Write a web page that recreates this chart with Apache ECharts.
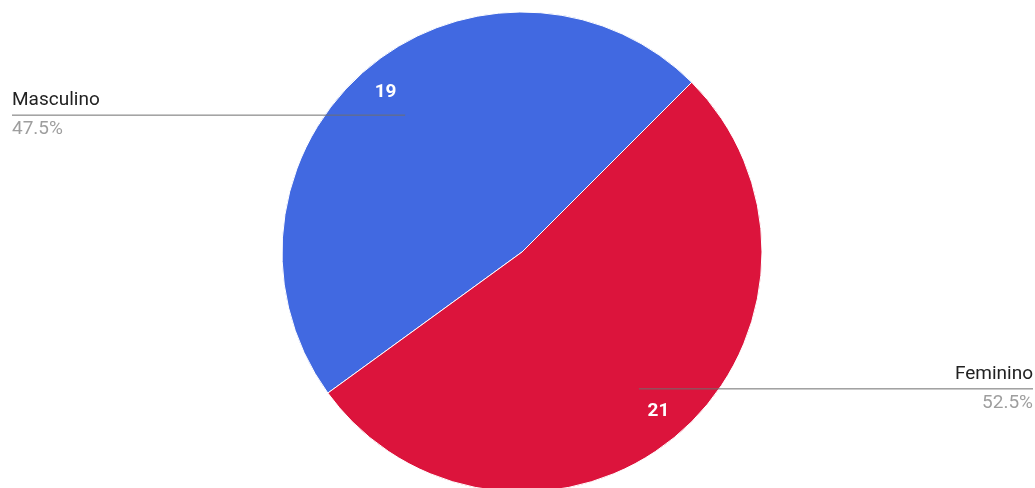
<!DOCTYPE html>
<html>
  <head>
    <meta charset="utf-8" />
    <script src="https://cdn.jsdelivr.net/npm/echarts@6.0.0/dist/echarts.min.js"></script>
  </head>
  <body style="margin:0">
    <div id="main" style="width: 1035px;height:488px;"></div>
    <script type="text/javascript">
      var myChart = echarts.init(document.getElementById('main'));

      // data
      const categories = ['Masculino', 'Feminino'];
      const counts = [19, 21];
      const colorList = ['#4169e1', '#dc143c'];
      const edgeGaps = [12, 2];

      const total = counts.reduce((a, b) => a + b, 0);
      const pieData = categories.map((name, i) => ({ name: name, value: counts[i] }));
      const centre = [522, 252];
      const startAngle = 216;
      const font = 'Roboto, Arial, sans-serif';

      option = {
        animation: false,
        color: colorList,
        series: [
          { name: 'main',
            type: 'pie',
            center: centre,
            radius: 240,
            startAngle: startAngle,
            z: 1,
            label: { show: false },
            labelLine: { show: false },
            itemStyle: { borderColor: '#fff', borderWidth: 1 },
            data: pieData
          },
          // ring only used to place the count labels
          { name: 'counts',
            type: 'pie',
            center: centre,
            radius: [174, 240],
            startAngle: startAngle,
            silent: true,
            z: 3,
            itemStyle: { color: 'transparent' },
            label: {
              show: true,
              position: 'inside',
              formatter: '{c}',
              color: '#fff',
              fontFamily: font,
              fontWeight: 'bold',
              fontSize: 19
            },
            labelLine: { show: false },
            data: pieData
          },
          // invisible pie used for the legend labels with leader lines
          { name: 'legend',
            type: 'pie',
            center: centre,
            radius: 180,
            startAngle: startAngle,
            silent: true,
            z: 5,
            itemStyle: { color: 'transparent' },
            label: {
              show: true,
              alignTo: 'edge',
              formatter: function (p) {
                return '{n|' + p.name + '}\n{p|' + (p.value / total * 100).toFixed(1) + '%}';
              },
              rich: {
                n: { fontFamily: font, fontSize: 19, color: '#222', lineHeight: 29 },
                p: { fontFamily: font, fontSize: 19, color: '#9e9e9e', lineHeight: 29 }
              }
            },
            labelLine: {
              show: true,
              length: 0,
              length2: 10,
              lineStyle: { color: '#6e6e6e', width: 1 }
            },
            labelLayout: function (p) {
              var pts = p.labelLinePoints;
              if (!pts) return {};
              var r = p.labelRect;
              var endX = pts[0][0] < centre[0] ? r.x : r.x + r.width;
              return { labelLinePoints: [pts[0], [endX, pts[0][1]], [endX, pts[0][1]]] };
            },
            data: pieData.map((d, i) => ({
              name: d.name,
              value: d.value,
              label: { edgeDistance: edgeGaps[i] }
            }))
          }
        ]
      };

      myChart.setOption(option);
    </script>
  </body>
</html>
